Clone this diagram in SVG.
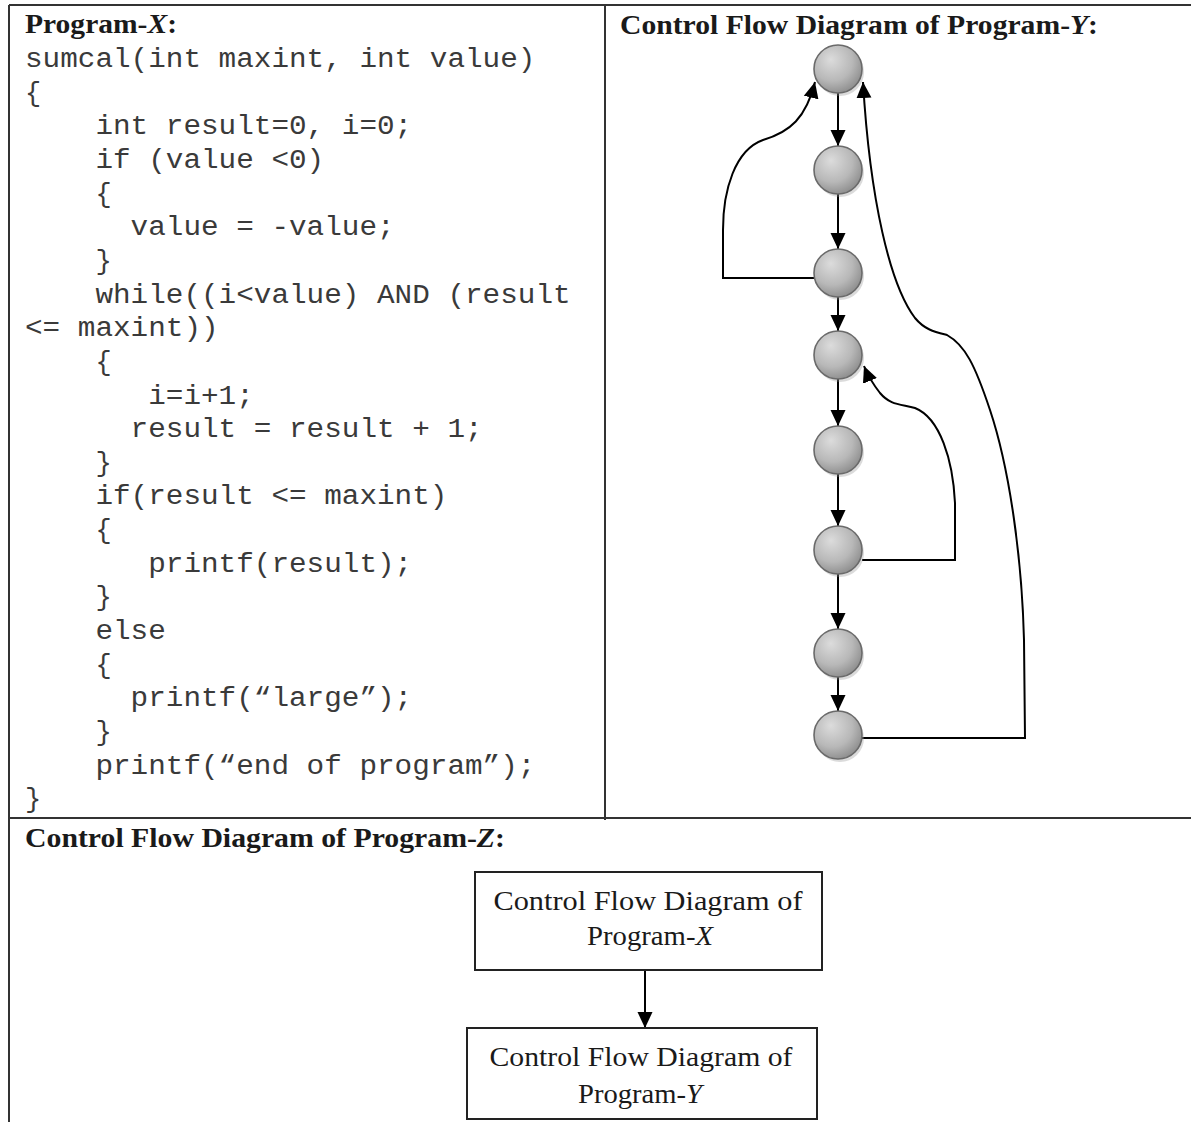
<svg xmlns="http://www.w3.org/2000/svg" width="1191" height="1122" viewBox="0 0 1191 1122">
<style>
.frame{stroke:#333;stroke-width:2;fill:none}
.hdr{font-family:"Liberation Serif","Times New Roman",serif;font-weight:bold;font-size:27px;fill:#1a1a1a}
.code{font-family:"Liberation Mono","Courier New",monospace;font-size:27px;fill:#3a3a3a}
.box{fill:#fff;stroke:#222;stroke-width:2}
.btxt{font-family:"Liberation Serif","Times New Roman",serif;font-size:27px;fill:#1a1a1a;text-anchor:middle}
.it{font-style:italic}
.edge{fill:none;stroke:#000;stroke-width:2}
.nd{fill:url(#ng);stroke:#6a6a6a;stroke-width:1.6}
.sh{fill:#999;opacity:0.35}
</style>
<defs>
<radialGradient id="ng" cx="0.4" cy="0.35" r="0.7" fx="0.35" fy="0.3">
<stop offset="0" stop-color="#dcdcdc"/>
<stop offset="0.6" stop-color="#b8b8b8"/>
<stop offset="1" stop-color="#8a8a8a"/>
</radialGradient>
<marker id="ah" viewBox="0 0 16 16" refX="16" refY="8" markerWidth="16" markerHeight="16" markerUnits="userSpaceOnUse" orient="auto">
<path d="M0,0.5 L16,8 L0,15.5 z" fill="#000"/>
</marker>
</defs>

<g id="frame">
<line class="frame" x1="9" y1="5" x2="1191" y2="5"/>
<line class="frame" x1="9" y1="5" x2="9" y2="1122"/>
<line class="frame" x1="605" y1="5" x2="605" y2="820"/>
<line class="frame" x1="9" y1="818" x2="1191" y2="818"/>
</g>

<g id="program-x">
<text class="hdr" x="25" y="33" textLength="152" lengthAdjust="spacingAndGlyphs">Program-<tspan class="it">X</tspan>:</text>
<text class="code" x="25" y="67" textLength="510.4" lengthAdjust="spacingAndGlyphs">sumcal(int maxint, int value)</text>
<text class="code" x="25" y="100.65">{</text>
<text class="code" x="95.4" y="134.3" textLength="316.8" lengthAdjust="spacingAndGlyphs">int result=0, i=0;</text>
<text class="code" x="95.4" y="167.95" textLength="228.8" lengthAdjust="spacingAndGlyphs">if (value &lt;0)</text>
<text class="code" x="95.4" y="201.6">{</text>
<text class="code" x="130.6" y="235.25" textLength="264" lengthAdjust="spacingAndGlyphs">value = -value;</text>
<text class="code" x="95.4" y="268.9">}</text>
<text class="code" x="95.4" y="302.55" textLength="475.2" lengthAdjust="spacingAndGlyphs">while((i&lt;value) AND (result</text>
<text class="code" x="25" y="336.2" textLength="193.6" lengthAdjust="spacingAndGlyphs">&lt;= maxint))</text>
<text class="code" x="95.4" y="369.85">{</text>
<text class="code" x="148.2" y="403.5" textLength="105.6" lengthAdjust="spacingAndGlyphs">i=i+1;</text>
<text class="code" x="130.6" y="437.15" textLength="352" lengthAdjust="spacingAndGlyphs">result = result + 1;</text>
<text class="code" x="95.4" y="470.8">}</text>
<text class="code" x="95.4" y="504.45" textLength="352" lengthAdjust="spacingAndGlyphs">if(result &lt;= maxint)</text>
<text class="code" x="95.4" y="538.1">{</text>
<text class="code" x="148.2" y="571.75" textLength="264" lengthAdjust="spacingAndGlyphs">printf(result);</text>
<text class="code" x="95.4" y="605.4">}</text>
<text class="code" x="95.4" y="639.05" textLength="70.4" lengthAdjust="spacingAndGlyphs">else</text>
<text class="code" x="95.4" y="672.7">{</text>
<text class="code" x="130.6" y="706.35" textLength="281.6" lengthAdjust="spacingAndGlyphs">printf(“large”);</text>
<text class="code" x="95.4" y="740">}</text>
<text class="code" x="95.4" y="773.65" textLength="440" lengthAdjust="spacingAndGlyphs">printf(“end of program”);</text>
<text class="code" x="25" y="807.3">}</text>
</g>

<g id="title-y">
<text class="hdr" x="620" y="34" textLength="478" lengthAdjust="spacingAndGlyphs">Control Flow Diagram of Program-<tspan class="it">Y</tspan>:</text>
</g>

<g id="edges-y">
<path class="edge" d="M838 93 L838 146" marker-end="url(#ah)"/>
<path class="edge" d="M838 194 L838 249" marker-end="url(#ah)"/>
<path class="edge" d="M838 297 L838 331" marker-end="url(#ah)"/>
<path class="edge" d="M838 379 L838 426" marker-end="url(#ah)"/>
<path class="edge" d="M838 474 L838 526" marker-end="url(#ah)"/>
<path class="edge" d="M838 574 L838 629" marker-end="url(#ah)"/>
<path class="edge" d="M838 677 L838 711" marker-end="url(#ah)"/>
<path class="edge" d="M815 278 L723 278 L723 230 C723 190 735 150 763 140 C790 132 806 118 815 82" marker-end="url(#ah)"/>
<path class="edge" d="M862 560 L955 560 L955 503 C953 460 940 418 915 408 C900 404 890 405 880 393 C873 384 868 376 864 366" marker-end="url(#ah)"/>
<path class="edge" d="M862 738 L1025 738 L1024 640 C1022 560 1010 470 990 410 C975 365 965 345 947 335 C935 332 925 330 915 318 C890 285 870 200 863 82" marker-end="url(#ah)"/>
</g>

<g id="y-n1"><circle class="sh" cx="840" cy="72" r="24"/><circle class="nd" cx="838" cy="69" r="24"/></g>
<g id="y-n2"><circle class="sh" cx="840" cy="173" r="24"/><circle class="nd" cx="838" cy="170" r="24"/></g>
<g id="y-n3"><circle class="sh" cx="840" cy="276" r="24"/><circle class="nd" cx="838" cy="273" r="24"/></g>
<g id="y-n4"><circle class="sh" cx="840" cy="358" r="24"/><circle class="nd" cx="838" cy="355" r="24"/></g>
<g id="y-n5"><circle class="sh" cx="840" cy="453" r="24"/><circle class="nd" cx="838" cy="450" r="24"/></g>
<g id="y-n6"><circle class="sh" cx="840" cy="553" r="24"/><circle class="nd" cx="838" cy="550" r="24"/></g>
<g id="y-n7"><circle class="sh" cx="840" cy="656" r="24"/><circle class="nd" cx="838" cy="653" r="24"/></g>
<g id="y-n8"><circle class="sh" cx="840" cy="738" r="24"/><circle class="nd" cx="838" cy="735" r="24"/></g>

<g id="title-z">
<text class="hdr" x="25" y="847" textLength="480" lengthAdjust="spacingAndGlyphs">Control Flow Diagram of Program-<tspan class="it">Z</tspan>:</text>
</g>

<g id="edges-z">
<path class="edge" d="M645 971 L645 1028" marker-end="url(#ah)"/>
</g>

<g id="z-box-x">
<rect class="box" x="475" y="872" width="347" height="98"/>
<text class="btxt" x="648" y="910" textLength="309" lengthAdjust="spacingAndGlyphs">Control Flow Diagram of</text>
<text class="btxt" x="650" y="945" textLength="126" lengthAdjust="spacingAndGlyphs">Program-<tspan class="it">X</tspan></text>
</g>

<g id="z-box-y">
<rect class="box" x="467" y="1028" width="350" height="91"/>
<text class="btxt" x="641" y="1066" textLength="303" lengthAdjust="spacingAndGlyphs">Control Flow Diagram of</text>
<text class="btxt" x="640" y="1103" textLength="124" lengthAdjust="spacingAndGlyphs">Program-<tspan class="it">Y</tspan></text>
</g>
</svg>
